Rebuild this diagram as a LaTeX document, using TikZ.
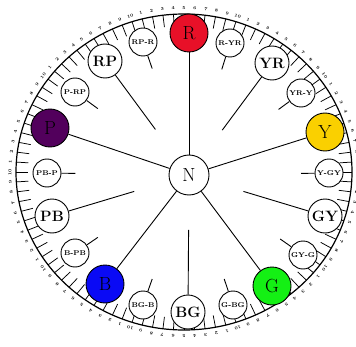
\documentclass[tikz,border=0pt]{standalone}
\usetikzlibrary{calc}
\definecolor{hueR}{RGB}{232,16,40}
\definecolor{hueY}{RGB}{250,208,0}
\definecolor{hueG}{RGB}{20,240,20}
\definecolor{hueB}{RGB}{10,10,245}
\definecolor{hueP}{RGB}{82,0,92}

\begin{document}
\begin{tikzpicture}[x=1pt,y=1pt,line width=0.9pt,
  main/.style={circle,draw,inner sep=0pt,minimum size=38pt,font=\fontsize{19}{19}\selectfont},
  mid/.style={circle,draw,fill=white,inner sep=0pt,minimum size=34pt,font=\fontsize{15}{15}\selectfont\bfseries},
  half/.style={circle,draw,fill=white,inner sep=0pt,minimum size=28pt,font=\fontsize{7}{7}\selectfont\bfseries},
  num/.style={inner sep=0pt,font=\fontsize{4.3}{4.3}\selectfont\bfseries}]
  \useasboundingbox (0,0) rectangle (356,346);
  % rim of the hue circle with 100 steps
  \draw[line width=1.2pt] (184,174) ellipse (168 and 158);
  \foreach \k [evaluate=\k as \a using {90-3.6*\k},
               evaluate=\k as \n using {int(mod(\k+4,10)+1)}] in {0,...,99}{
    \draw[line width=0.75pt] ({184+168*cos(\a)},{174+158*sin(\a)}) -- ({184+156*cos(\a)},{174+146*sin(\a)});
    \node[num,rotate=\a-90] (n\k) at ({184+174*cos(\a)},{174+164*sin(\a)}) {\n};
  }
  % neutral
  \node[main,minimum size=40pt,fill=white] (N) at (189,171) {N};
  % principal hues
  \node[main,fill=hueR] (R) at (189,313) {R};
  \node[main,fill=hueY] (Y) at (325,214) {Y};
  \node[main,fill=hueG] (G) at (272,60) {G};
  \node[main,fill=hueB] (B) at (105,62) {B};
  \node[main,fill=hueP] (P) at (50,218) {P};
  % intermediate hues
  \node[mid] (YR) at (272,283) {YR};
  \node[mid] (GY) at (325,130) {GY};
  \node[mid] (BG) at (188,34) {BG};
  \node[mid] (PB) at (52,130) {PB};
  \node[mid] (RP) at (105,285) {RP};
  % half steps
  \node[half] (RPR) at (143,304) {RP-R};
  \node[half] (RYR) at (230,303) {R-YR};
  \node[half] (YRY) at (301,253) {YR-Y};
  \node[half] (YGY) at (329,173) {Y-GY};
  \node[half] (GYG) at (303,91) {GY-G};
  \node[half] (GBG) at (233,41) {G-BG};
  \node[half] (BGB) at (143,41) {BG-B};
  \node[half] (BPB) at (75,93) {B-PB};
  \node[half] (PBP) at (47,173) {PB-P};
  \node[half] (PRP) at (75,254) {P-RP};
  \foreach \h in {R,Y,G,B,P}
    \draw (N) -- (\h);
  \foreach \h in {YR,GY,BG,PB,RP}
    \draw (\h) -- ($(N)!0.4!(\h)$);
  \foreach \h in {RPR,RYR,YRY,YGY,GYG,GBG,BGB,BPB,PBP,PRP}
    \draw (\h) -- ($(N)!0.8!(\h)$);
\end{tikzpicture}
\end{document}
